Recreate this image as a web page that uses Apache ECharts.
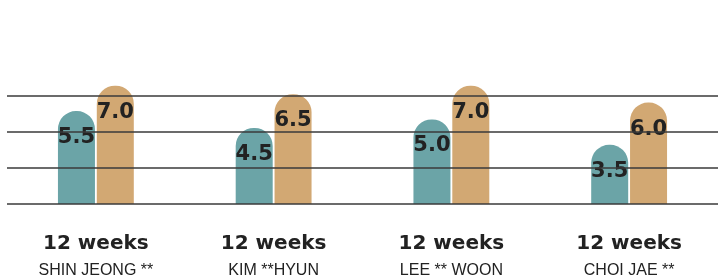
<!DOCTYPE html>
<html lang="en">

<head>
    <meta charset="UTF-8">
    <title>12 weeks</title>
    <script src="https://cdn.jsdelivr.net/npm/echarts@6/dist/echarts.min.js"></script>
    <style>
        html,
        body {
            height: 100%;
            margin: 0;
            padding: 0;
            background-color: #fff;
        }

        #pic {
            width: 718px;
            height: 280px;
        }
    </style>
</head>

<body>
    <div id="pic"></div>

    <script>
        // data
        var names = ['SHIN JEONG **', 'KIM **HYUN', 'LEE ** WOON', 'CHOI JAE **'];
        var periods = ['12 weeks', '12 weeks', '12 weeks', '12 weeks'];
        var before = [5.5, 4.5, 5.0, 3.5];
        var after = [7.0, 6.5, 7.0, 6.0];

        var myChart = echarts.init(document.getElementById('pic'));

        var valueLabel = {
            show: true,
            position: 'insideTop',
            distance: 16,
            color: '#222',
            fontFamily: 'DejaVu Sans',
            fontWeight: 'bold',
            fontSize: 21,
            formatter: function (p) {
                return p.value.toFixed(1);
            }
        };

        var option = {
            animation: false,
            grid: {
                left: 7,
                right: -6,
                top: 60,
                bottom: 76
            },
            xAxis: {
                type: 'category',
                data: names.map(function (n, i) {
                    return periods[i] + '\n' + n;
                }),
                axisLine: { show: false },
                axisTick: { show: false },
                axisLabel: {
                    margin: 26,
                    formatter: function (v) {
                        var parts = v.split('\n');
                        return '{p|' + parts[0] + '}\n{n|' + parts[1] + '}';
                    },
                    rich: {
                        p: {
                            fontFamily: 'DejaVu Sans',
                            fontWeight: 'bold',
                            fontSize: 20,
                            color: '#222',
                            lineHeight: 28
                        },
                        n: {
                            fontFamily: 'Liberation Sans',
                            fontSize: 16,
                            color: '#222',
                            lineHeight: 26
                        }
                    }
                }
            },
            yAxis: {
                type: 'value',
                min: 0,
                max: 8.52,
                interval: 2.13,
                z: 10,
                axisLabel: { show: false },
                axisLine: { show: false },
                axisTick: { show: false },
                splitLine: {
                    show: true,
                    showMaxLine: false,
                    lineStyle: { color: '#3a3a3a', width: 1.5 }
                }
            },
            series: [{
                name: 'before',
                type: 'bar',
                data: before,
                barWidth: 37,
                barGap: '5%',
                itemStyle: { color: '#6ba4a7', borderRadius: [18, 18, 0, 0] },
                label: valueLabel
            }, {
                name: 'after',
                type: 'bar',
                data: after,
                barWidth: 37,
                itemStyle: { color: '#d2a873', borderRadius: [18, 18, 0, 0] },
                label: valueLabel
            }]
        };

        myChart.setOption(option);
    </script>
</body>

</html>
